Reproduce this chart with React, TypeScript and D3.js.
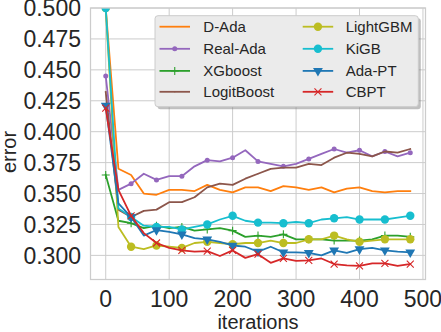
import React, { useEffect, useRef } from 'react';
import * as d3 from 'd3';

// iterations sampled every 20 rounds
const iterations = [0, 20, 40, 60, 80, 100, 120, 140, 160, 180, 200, 220, 240, 260, 280, 300, 320, 340, 360, 380, 400, 420, 440, 460, 480];

const dAda = [0.500, 0.370, 0.365, 0.350, 0.349, 0.353, 0.353, 0.352, 0.357, 0.353, 0.351, 0.355, 0.355, 0.352, 0.356, 0.355, 0.353, 0.355, 0.351, 0.354, 0.355, 0.352, 0.351, 0.352, 0.352];
const realAda = [0.445, 0.353, 0.358, 0.366, 0.361, 0.364, 0.364, 0.372, 0.377, 0.376, 0.379, 0.385, 0.376, 0.374, 0.372, 0.374, 0.378, 0.382, 0.386, 0.383, 0.385, 0.380, 0.384, 0.380, 0.383];
const xgboost = [0.365, 0.328, 0.326, 0.322, 0.324, 0.322, 0.323, 0.320, 0.321, 0.322, 0.320, 0.315, 0.316, 0.315, 0.317, 0.313, 0.313, 0.313, 0.312, 0.312, 0.312, 0.313, 0.316, 0.316, 0.315];
const logitBoost = [0.432, 0.337, 0.331, 0.336, 0.337, 0.343, 0.343, 0.347, 0.355, 0.358, 0.357, 0.362, 0.366, 0.370, 0.371, 0.371, 0.374, 0.373, 0.379, 0.383, 0.382, 0.380, 0.384, 0.383, 0.386];
const lightGBM = [0.500, 0.323, 0.307, 0.305, 0.308, 0.307, 0.306, 0.310, 0.311, 0.310, 0.309, 0.310, 0.310, 0.312, 0.310, 0.310, 0.313, 0.313, 0.316, 0.313, 0.311, 0.312, 0.313, 0.313, 0.313];
const kiGB = [0.500, 0.338, 0.331, 0.324, 0.323, 0.323, 0.321, 0.323, 0.325, 0.329, 0.332, 0.328, 0.3265, 0.3265, 0.326, 0.327, 0.326, 0.329, 0.330, 0.331, 0.329, 0.329, 0.329, 0.3305, 0.332];
const adaPT = [0.421, 0.342, 0.331, 0.316, 0.3205, 0.319, 0.317, 0.314, 0.313, 0.311, 0.308, 0.307, 0.303, 0.307, 0.3025, 0.3025, 0.302, 0.300, 0.304, 0.302, 0.305, 0.306, 0.304, 0.303, 0.3025];
const cbpt = [0.419, 0.353, 0.332, 0.318, 0.310, 0.306, 0.304, 0.303, 0.3035, 0.2995, 0.304, 0.298, 0.301, 0.294, 0.2975, 0.2955, 0.296, 0.2975, 0.293, 0.292, 0.2915, 0.2935, 0.2935, 0.2915, 0.293];

const yTicks = [0.300, 0.325, 0.350, 0.375, 0.400, 0.425, 0.450, 0.475, 0.500];
const xTicks = [0, 100, 200, 300, 400, 500];

const series = [
  { name: 'D-Ada', values: dAda, color: '#ff7f0e', marker: 'none' },
  { name: 'Real-Ada', values: realAda, color: '#9467bd', marker: 'dot' },
  { name: 'XGboost', values: xgboost, color: '#2ca02c', marker: 'plus' },
  { name: 'LogitBoost', values: logitBoost, color: '#8c564b', marker: 'pixel' },
  { name: 'LightGBM', values: lightGBM, color: '#bcbd22', marker: 'circle' },
  { name: 'KiGB', values: kiGB, color: '#17becf', marker: 'circle' },
  { name: 'Ada-PT', values: adaPT, color: '#1f77b4', marker: 'tri' },
  { name: 'CBPT', values: cbpt, color: '#d62728', marker: 'x' },
];

const FONT = '"Liberation Sans", Arial, sans-serif';
const TEXT = '#262626';

function drawMarker(g, kind, cx, cy, color) {
  if (kind === 'circle') {
    g.append('circle').attr('cx', cx).attr('cy', cy).attr('r', 4.2).attr('fill', color);
  } else if (kind === 'dot') {
    g.append('circle').attr('cx', cx).attr('cy', cy).attr('r', 2.5).attr('fill', color);
  } else if (kind === 'pixel') {
    g.append('rect').attr('x', cx - 0.5).attr('y', cy - 0.5).attr('width', 1).attr('height', 1).attr('fill', color);
  } else if (kind === 'tri') {
    g.append('path')
      .attr('d', d3.symbol(d3.symbolTriangle, 42)())
      .attr('transform', `translate(${cx},${cy}) rotate(180)`)
      .attr('fill', color);
  } else if (kind === 'x') {
    const s = 3.5;
    g.append('path')
      .attr('d', `M${cx - s},${cy - s}L${cx + s},${cy + s}M${cx - s},${cy + s}L${cx + s},${cy - s}`)
      .attr('stroke', color).attr('stroke-width', 1.1).attr('fill', 'none');
  } else if (kind === 'plus') {
    const s = 4;
    g.append('path')
      .attr('d', `M${cx - s},${cy}L${cx + s},${cy}M${cx},${cy - s}L${cx},${cy + s}`)
      .attr('stroke', color).attr('stroke-width', 1.1).attr('fill', 'none');
  }
}

function ErrorChart() {
  const ref = useRef(null);

  useEffect(() => {
    const svg = d3.select(ref.current);
    svg.selectAll('*').remove();

    const left = 90.5, right = 425.5, top = 8, bottom = 279.5;

    const x = d3.scaleLinear().domain([-24, 504]).range([left, right]);
    const y = d3.scaleLinear().domain([0.2805, 0.5]).range([bottom, top]);

    svg.append('rect').attr('width', 441).attr('height', 332).attr('fill', '#ffffff');

    svg.append('defs').append('clipPath').attr('id', 'plot-clip')
      .append('rect')
      .attr('x', left).attr('y', top)
      .attr('width', right - left).attr('height', bottom - top);

    // grid
    const grid = svg.append('g').attr('stroke', '#cccccc').attr('stroke-width', 1);
    xTicks.forEach(t => {
      grid.append('line').attr('x1', x(t)).attr('x2', x(t)).attr('y1', top).attr('y2', bottom);
    });
    yTicks.forEach(t => {
      grid.append('line').attr('x1', left).attr('x2', right).attr('y1', y(t)).attr('y2', y(t));
    });

    // tick labels
    svg.append('g').selectAll('text')
      .data(yTicks)
      .enter()
      .append('text')
      .attr('x', left - 9.5)
      .attr('y', d => y(d))
      .attr('dy', '0.36em')
      .attr('text-anchor', 'end')
      .attr('font-family', FONT)
      .attr('font-size', '23px')
      .attr('fill', TEXT)
      .text(d => d3.format('.3f')(d));

    svg.append('g').selectAll('text')
      .data(xTicks)
      .enter()
      .append('text')
      .attr('x', d => x(d))
      .attr('y', 307)
      .attr('text-anchor', 'middle')
      .attr('font-family', FONT)
      .attr('font-size', '23px')
      .attr('fill', TEXT)
      .text(d => d);

    svg.append('text')
      .attr('x', (left + right) / 2)
      .attr('y', 329)
      .attr('text-anchor', 'middle')
      .attr('font-family', FONT)
      .attr('font-size', '20px')
      .attr('fill', TEXT)
      .text('iterations');

    svg.append('text')
      .attr('transform', 'translate(16,152) rotate(-90)')
      .attr('text-anchor', 'middle')
      .attr('font-family', FONT)
      .attr('font-size', '20px')
      .attr('fill', TEXT)
      .text('error');

    // lines + markers
    const plot = svg.append('g').attr('clip-path', 'url(#plot-clip)');
    const line = d3.line().x((d, i) => x(iterations[i])).y(d => y(d));

    series.forEach(s => {
      plot.append('path')
        .datum(s.values)
        .attr('fill', 'none')
        .attr('stroke', s.color)
        .attr('stroke-width', 1.8)
        .attr('stroke-linejoin', 'round')
        .attr('stroke-linecap', 'square')
        .attr('d', line);
      const mg = plot.append('g');
      s.values.forEach((v, i) => {
        if (i % 2 === 0) drawMarker(mg, s.marker, x(iterations[i]), y(v), s.color);
      });
    });

    // frame
    svg.append('rect')
      .attr('x', left).attr('y', top)
      .attr('width', right - left).attr('height', bottom - top)
      .attr('fill', 'none')
      .attr('stroke', '#cccccc')
      .attr('stroke-width', 1.25);

    // legend
    const lg = svg.append('g');
    const lx = 155, ly = 15.7, lw = 263.3, lh = 91;
    lg.append('rect')
      .attr('x', lx + 2.5).attr('y', ly + 2.5)
      .attr('width', lw).attr('height', lh)
      .attr('rx', 3)
      .attr('fill', '#7f7f7f').attr('opacity', 0.5);
    lg.append('rect')
      .attr('x', lx).attr('y', ly)
      .attr('width', lw).attr('height', lh)
      .attr('rx', 3)
      .attr('fill', '#ebebeb')
      .attr('stroke', '#cccccc')
      .attr('stroke-width', 1);

    const rowY = [26.7, 48.8, 70.9, 91.8];
    const colHandle = [159.5, 302.7];
    const colText = [203.3, 345.7];
    series.forEach((s, i) => {
      const col = Math.floor(i / 4);
      const row = i % 4;
      const cy = rowY[row];
      const x0 = colHandle[col];
      lg.append('line')
        .attr('x1', x0).attr('x2', x0 + 30.5)
        .attr('y1', cy).attr('y2', cy)
        .attr('stroke', s.color)
        .attr('stroke-width', 1.8);
      drawMarker(lg, s.marker, x0 + 15.25, cy, s.color);
      lg.append('text')
        .attr('x', colText[col])
        .attr('y', cy)
        .attr('dy', '0.36em')
        .attr('font-family', FONT)
        .attr('font-size', '15px')
        .attr('fill', TEXT)
        .text(s.name);
    });
  }, []);

  return (
    <svg ref={ref} width={441} height={332}
      style={{ position: 'absolute', left: 0, top: 0, display: 'block' }} />
  );
}

export default function App() {
  return <ErrorChart />;
}
